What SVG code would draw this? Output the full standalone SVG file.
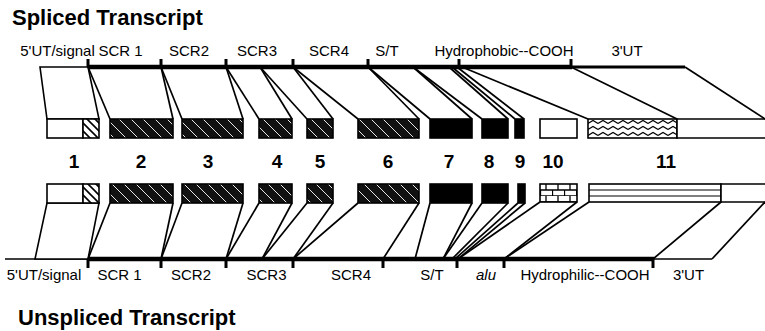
<svg xmlns="http://www.w3.org/2000/svg" width="765" height="331" viewBox="0 0 765 331">
  <style>
    .title { font-family: "Liberation Sans", Arial, sans-serif; font-weight: bold; font-size: 22px; fill: #000; }
    .lbl { font-family: "Liberation Sans", Arial, sans-serif; font-size: 15px; fill: #000; text-anchor: middle; }
    .num { font-family: "Liberation Sans", Arial, sans-serif; font-weight: bold; font-size: 19px; fill: #000; text-anchor: middle; }
    .box { stroke: #000; stroke-width: 1.6; }
    .conn line { stroke: #000; stroke-width: 1.7; }
    .tick { stroke: #000; stroke-width: 3; }
  </style>
  <defs>
    <!-- dark exon fill: black with fine white backslash hatching -->
    <pattern id="hatch" patternUnits="userSpaceOnUse" width="12" height="12">
      <rect width="12" height="12" fill="#111"/>
      <path d="M-3,-3 L15,15 M-3,9 L3,15 M9,-3 L15,3" stroke="#fff" stroke-width="0.9"/>
    </pattern>
    <!-- signal peptide fill: white with bold black hatching -->
    <pattern id="hatchLight" patternUnits="userSpaceOnUse" width="8" height="8">
      <rect width="8" height="8" fill="#fff"/>
      <path d="M-2,-2 L10,10 M-2,6 L2,10 M6,-2 L10,2" stroke="#000" stroke-width="1.6"/>
    </pattern>
    <!-- wavy fill -->
    <pattern id="zig" patternUnits="userSpaceOnUse" x="588" y="119" width="10" height="6">
      <rect width="10" height="6" fill="#fff"/>
      <path d="M0,4.5 L5,1.5 L10,4.5" stroke="#000" fill="none" stroke-width="1.1"/>
    </pattern>
    <!-- brick fill -->
    <pattern id="brick" patternUnits="userSpaceOnUse" x="540" y="184" width="12" height="12">
      <rect width="12" height="12" fill="#fff"/>
      <path d="M0,6 H12 M0,12 H12 M6,0 V6 M0.5,6 V12" stroke="#000" stroke-width="1.3"/>
    </pattern>
  </defs>

  <rect width="765" height="331" fill="#fff"/>

  <!-- titles -->
  <text class="title" x="12" y="25">Spliced Transcript</text>
  <text class="title" x="18" y="325">Unspliced Transcript</text>

  <!-- spliced transcript: domain labels -->
  <g id="top-labels">
    <text class="lbl" x="57.5" y="56">5'UT/signal</text>
    <text class="lbl" x="120.5" y="56">SCR 1</text>
    <text class="lbl" x="189" y="56">SCR2</text>
    <text class="lbl" x="257" y="56">SCR3</text>
    <text class="lbl" x="329" y="56">SCR4</text>
    <text class="lbl" x="387" y="56">S/T</text>
    <text class="lbl" x="504" y="56">Hydrophobic--COOH</text>
    <text class="lbl" x="627" y="56">3'UT</text>
  </g>

  <!-- spliced transcript line with domain ticks -->
  <g id="top-transcript">
    <line x1="88" y1="67" x2="572" y2="67" stroke="#000" stroke-width="4.5"/>
    <line x1="572" y1="67" x2="685" y2="67" stroke="#000" stroke-width="2.8"/>
    <g class="tick">
      <line x1="88" y1="59" x2="88" y2="67"/>
      <line x1="161" y1="59" x2="161" y2="67"/>
      <line x1="226" y1="59" x2="226" y2="67"/>
      <line x1="293" y1="59" x2="293" y2="67"/>
      <line x1="368" y1="59" x2="368" y2="67"/>
      <line x1="459" y1="59" x2="459" y2="67"/>
      <line x1="571" y1="59" x2="571" y2="67"/>
    </g>
  </g>

  <!-- unspliced transcript line with domain ticks -->
  <g id="bottom-transcript">
    <line x1="5" y1="259" x2="88" y2="259" stroke="#000" stroke-width="1.6"/>
    <line x1="88" y1="259" x2="654" y2="259" stroke="#000" stroke-width="4.5"/>
    <line x1="654" y1="259" x2="712" y2="259" stroke="#000" stroke-width="1.6"/>
    <g class="tick">
      <line x1="88" y1="259" x2="88" y2="268"/>
      <line x1="161" y1="259" x2="161" y2="268"/>
      <line x1="226" y1="259" x2="226" y2="268"/>
      <line x1="293" y1="259" x2="293" y2="268"/>
      <line x1="383" y1="259" x2="383" y2="268"/>
      <line x1="457" y1="259" x2="457" y2="268"/>
      <line x1="504" y1="259" x2="504" y2="268"/>
      <line x1="653" y1="259" x2="653" y2="268"/>
    </g>
  </g>

  <!-- unspliced transcript: domain labels -->
  <g id="bottom-labels">
    <text class="lbl" x="44" y="280">5'UT/signal</text>
    <text class="lbl" x="119.5" y="280">SCR 1</text>
    <text class="lbl" x="191" y="280">SCR2</text>
    <text class="lbl" x="266.5" y="280">SCR3</text>
    <text class="lbl" x="351" y="280">SCR4</text>
    <text class="lbl" x="432" y="280">S/T</text>
    <text class="lbl" x="486" y="280" font-style="italic">alu</text>
    <text class="lbl" x="585" y="280">Hydrophilic--COOH</text>
    <text class="lbl" x="688.5" y="280">3'UT</text>
  </g>

  <!-- exon numbers -->
  <g id="exon-numbers">
    <text class="num" x="74" y="168">1</text>
    <text class="num" x="141" y="168">2</text>
    <text class="num" x="208" y="168">3</text>
    <text class="num" x="277" y="168">4</text>
    <text class="num" x="320" y="168">5</text>
    <text class="num" x="388" y="168">6</text>
    <text class="num" x="449" y="168">7</text>
    <text class="num" x="489" y="168">8</text>
    <text class="num" x="520" y="168">9</text>
    <text class="num" x="553" y="168">10</text>
    <text class="num" x="666" y="168">11</text>
  </g>

  <!-- exons in the spliced transcript -->
  <g id="top-exon-1">
    <path class="box" d="M40,67 L88,67 L99,119 L47,119 Z" fill="#fff"/>
    <rect class="box" x="47" y="119" width="36" height="19" fill="#fff"/>
    <rect class="box" x="83" y="119" width="16" height="19" fill="url(#hatchLight)"/>
  </g>
  <rect id="top-exon-2" class="box" x="110" y="119" width="63" height="19" fill="url(#hatch)"/>
  <rect id="top-exon-3" class="box" x="182" y="119" width="61" height="19" fill="url(#hatch)"/>
  <rect id="top-exon-4" class="box" x="259" y="119" width="33" height="19" fill="url(#hatch)"/>
  <rect id="top-exon-5" class="box" x="307" y="119" width="26" height="19" fill="url(#hatch)"/>
  <rect id="top-exon-6" class="box" x="358" y="119" width="61" height="19" fill="url(#hatch)"/>
  <rect id="top-exon-7" class="box" x="430" y="119" width="42" height="19" fill="#000"/>
  <rect id="top-exon-8" class="box" x="482" y="119" width="26" height="19" fill="#000"/>
  <rect id="top-exon-9" class="box" x="515" y="119" width="9" height="19" fill="#000"/>
  <rect id="top-exon-10" class="box" x="540" y="119" width="37" height="19" fill="#fff"/>
  <g id="top-exon-11">
    <rect class="box" x="588" y="119" width="89" height="19" fill="url(#zig)"/>
    <path class="box" d="M766,119 H677 V138 H766" fill="#fff"/>
  </g>

  <!-- exons in the unspliced transcript -->
  <g id="bottom-exon-1">
    <path class="box" d="M35,259 L88,259 L99,203 L47,203 Z" fill="#fff"/>
    <rect class="box" x="47" y="184" width="36" height="19" fill="#fff"/>
    <rect class="box" x="83" y="184" width="16" height="19" fill="url(#hatchLight)"/>
  </g>
  <rect id="bottom-exon-2" class="box" x="110" y="184" width="63" height="19" fill="url(#hatch)"/>
  <rect id="bottom-exon-3" class="box" x="182" y="184" width="61" height="19" fill="url(#hatch)"/>
  <rect id="bottom-exon-4" class="box" x="259" y="184" width="33" height="19" fill="url(#hatch)"/>
  <rect id="bottom-exon-5" class="box" x="307" y="184" width="26" height="19" fill="url(#hatch)"/>
  <rect id="bottom-exon-6" class="box" x="358" y="184" width="61" height="19" fill="url(#hatch)"/>
  <rect id="bottom-exon-7" class="box" x="430" y="184" width="42" height="19" fill="#000"/>
  <rect id="bottom-exon-8" class="box" x="482" y="184" width="26" height="19" fill="#000"/>
  <rect id="bottom-exon-9" class="box" x="518" y="184" width="7" height="19" fill="#000"/>
  <rect id="bottom-exon-10" class="box" x="540" y="184" width="37" height="18" fill="url(#brick)"/>
  <g id="bottom-exon-11">
    <rect class="box" x="589" y="184" width="132" height="18" fill="#fff"/>
    <path d="M589,190 H721 M589,196 H721" stroke="#000" stroke-width="1.2"/>
    <path class="box" d="M766,184 H721 V202 H766" fill="#fff"/>
  </g>

  <!-- connectors from transcript positions to exon edges -->
  <g id="connectors" class="conn">
    <line x1="88" y1="67" x2="110" y2="119"/>
    <line x1="161" y1="67" x2="173" y2="119"/>
    <line x1="161" y1="67" x2="182" y2="119"/>
    <line x1="226" y1="67" x2="243" y2="119"/>
    <line x1="226" y1="67" x2="259" y2="119"/>
    <line x1="260" y1="67" x2="292" y2="119"/>
    <line x1="260" y1="67" x2="307" y2="119"/>
    <line x1="293" y1="67" x2="333" y2="119"/>
    <line x1="293" y1="67" x2="358" y2="119"/>
    <line x1="368" y1="67" x2="419" y2="119"/>
    <line x1="368" y1="67" x2="430" y2="119"/>
    <line x1="413" y1="67" x2="472" y2="119"/>
    <line x1="413" y1="67" x2="482" y2="119"/>
    <line x1="449" y1="67" x2="508" y2="119"/>
    <line x1="452" y1="67" x2="515" y2="119"/>
    <line x1="457" y1="67" x2="524" y2="119"/>
    <line x1="462" y1="67" x2="588" y2="119"/>
    <line x1="571" y1="67" x2="677" y2="119"/>
    <line x1="685" y1="67" x2="765" y2="119"/>

    <line x1="88" y1="259" x2="110" y2="203"/>
    <line x1="161" y1="259" x2="173" y2="203"/>
    <line x1="161" y1="259" x2="182" y2="203"/>
    <line x1="226" y1="259" x2="243" y2="203"/>
    <line x1="226" y1="259" x2="259" y2="203"/>
    <line x1="262" y1="259" x2="292" y2="203"/>
    <line x1="262" y1="259" x2="307" y2="203"/>
    <line x1="293" y1="259" x2="333" y2="203"/>
    <line x1="293" y1="259" x2="358" y2="203"/>
    <line x1="383" y1="259" x2="419" y2="203"/>
    <line x1="415" y1="259" x2="430" y2="203"/>
    <line x1="443" y1="259" x2="472" y2="203"/>
    <line x1="443" y1="259" x2="482" y2="203"/>
    <line x1="452" y1="259" x2="508" y2="203"/>
    <line x1="455" y1="259" x2="518" y2="203"/>
    <line x1="458" y1="259" x2="525" y2="203"/>
    <line x1="458" y1="259" x2="540" y2="202"/>
    <line x1="504" y1="259" x2="577" y2="202"/>
    <line x1="504" y1="259" x2="589" y2="202"/>
    <line x1="653" y1="259" x2="721" y2="202"/>
    <line x1="712" y1="259" x2="765" y2="202"/>
  </g>
</svg>
